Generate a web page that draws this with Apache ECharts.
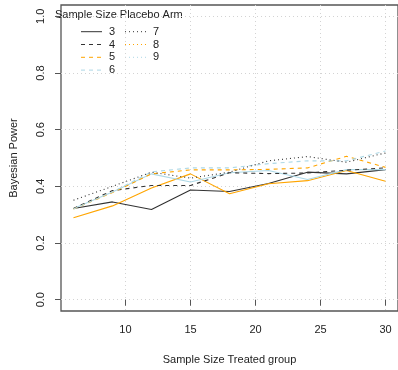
<!DOCTYPE html>
<html>
<head>
<meta charset="utf-8">
<script src="https://cdn.jsdelivr.net/npm/echarts@6/dist/echarts.min.js"></script>
<style>html,body{margin:0;padding:0;background:#fff}#c{width:398px;height:370px}</style>
</head>
<body>
<div id="c"></div>
<script>
const treatedSizes = [6, 9, 12, 15, 18, 21, 24, 27, 30];
const xTicks = [10, 15, 20, 25, 30];
const yTicks = [0, 0.2, 0.4, 0.6, 0.8, 1.0];
const placebo3 = [0.322, 0.345, 0.318, 0.387, 0.382, 0.41, 0.45, 0.444, 0.459];
const placebo4 = [0.289, 0.331, 0.394, 0.444, 0.374, 0.409, 0.42, 0.456, 0.418];
const placebo5 = [0.322, 0.38, 0.444, 0.415, 0.448, 0.456, 0.424, 0.459, 0.459];
const placebo6 = [0.322, 0.385, 0.403, 0.403, 0.448, 0.445, 0.447, 0.457, 0.465];
const placebo7 = [0.32, 0.378, 0.444, 0.458, 0.458, 0.46, 0.465, 0.506, 0.467];
const placebo8 = [0.32, 0.38, 0.451, 0.465, 0.465, 0.48, 0.49, 0.49, 0.525];
const placebo9 = [0.351, 0.40, 0.45, 0.429, 0.45, 0.49, 0.505, 0.485, 0.518];
const legendLabels = ['3', '4', '5', '6', '7', '8', '9'];

const BLACK = '#333', ORANGE = '#FFA500', LBLUE = '#ADD8E6';
const DASH = [4, 4], DOT = [1, 3];
const plotted = [
  {name: '3', data: placebo3, color: BLACK, type: 'solid'},
  {name: '4', data: placebo4, color: ORANGE, type: 'solid'},
  {name: '5', data: placebo5, color: LBLUE, type: 'solid'},
  {name: '6', data: placebo6, color: BLACK, type: DASH},
  {name: '7', data: placebo7, color: ORANGE, type: DASH},
  {name: '8', data: placebo8, color: LBLUE, type: DASH},
  {name: '9', data: placebo9, color: BLACK, type: DOT}
];
// legend appearance as drawn in the reference
const legendStyles = [
  {color: BLACK, type: 'solid'}, {color: BLACK, type: DASH}, {color: ORANGE, type: DASH},
  {color: LBLUE, type: DASH}, {color: BLACK, type: DOT}, {color: ORANGE, type: DOT},
  {color: LBLUE, type: DOT}
];

const FONT = '"Liberation Sans", Arial, sans-serif';
const graphics = [{
  type: 'text', left: 55, top: 9,
  style: {text: 'Sample Size Placebo Arm', font: '11px ' + FONT, fill: '#222'}
}];
legendLabels.forEach((lab, i) => {
  const col = i < 4 ? 0 : 1;
  const row = i < 4 ? i : i - 4;
  const y = 31.7 + row * 12.8;
  const x0 = col === 0 ? 81 : 125;
  const st = legendStyles[i];
  graphics.push({
    type: 'line',
    shape: {x1: x0, y1: y, x2: x0 + 21, y2: y},
    style: {stroke: st.color, lineWidth: 1, lineDash: st.type === 'solid' ? null : st.type}
  });
  graphics.push({
    type: 'text', x: x0 + 28, y: y,
    style: {text: lab, font: '11px ' + FONT, fill: '#222', textVerticalAlign: 'middle'}
  });
});

const chart = echarts.init(document.getElementById('c'), null, {renderer: 'canvas'});
chart.setOption({
  animation: false,
  backgroundColor: '#fff',
  grid: {left: 53, top: 5, width: 348, height: 309, show: true, borderColor: '#555', borderWidth: 1.3, containLabel: false},
  xAxis: {
    type: 'value', min: 5.04, max: 30.96,
    name: 'Sample Size Treated group', nameLocation: 'middle', nameGap: 43,
    nameTextStyle: {fontSize: 11, fontFamily: 'Liberation Sans', color: '#222'},
    axisLine: {show: false},
    axisTick: {show: true, customValues: xTicks, length: 6, lineStyle: {color: '#555'}},
    axisLabel: {customValues: xTicks, margin: 13, fontSize: 11, fontFamily: 'Liberation Sans', color: '#222'},
    splitLine: {show: true, lineStyle: {color: '#d3d3d3', type: DOT, width: 1}}
  },
  yAxis: {
    type: 'value', min: -0.04, max: 1.04,
    name: 'Bayesian Power', nameLocation: 'middle', nameGap: 42,
    nameTextStyle: {fontSize: 11, fontFamily: 'Liberation Sans', color: '#222'},
    axisLine: {show: false},
    axisTick: {show: true, customValues: yTicks, length: 6, lineStyle: {color: '#555'}},
    axisLabel: {customValues: yTicks, rotate: 90, margin: 15, fontSize: 11, fontFamily: 'Liberation Sans', color: '#222',
      formatter: v => v.toFixed(1)},
    splitLine: {show: true, lineStyle: {color: '#d3d3d3', type: DOT, width: 1}}
  },
  graphic: graphics,
  series: plotted.map(s => ({
    name: s.name, type: 'line', symbol: 'none',
    data: treatedSizes.map((x, i) => [x, s.data[i]]),
    lineStyle: {color: s.color, width: 1.1, type: s.type},
    itemStyle: {color: s.color}
  }))
});
</script>
</body>
</html>
